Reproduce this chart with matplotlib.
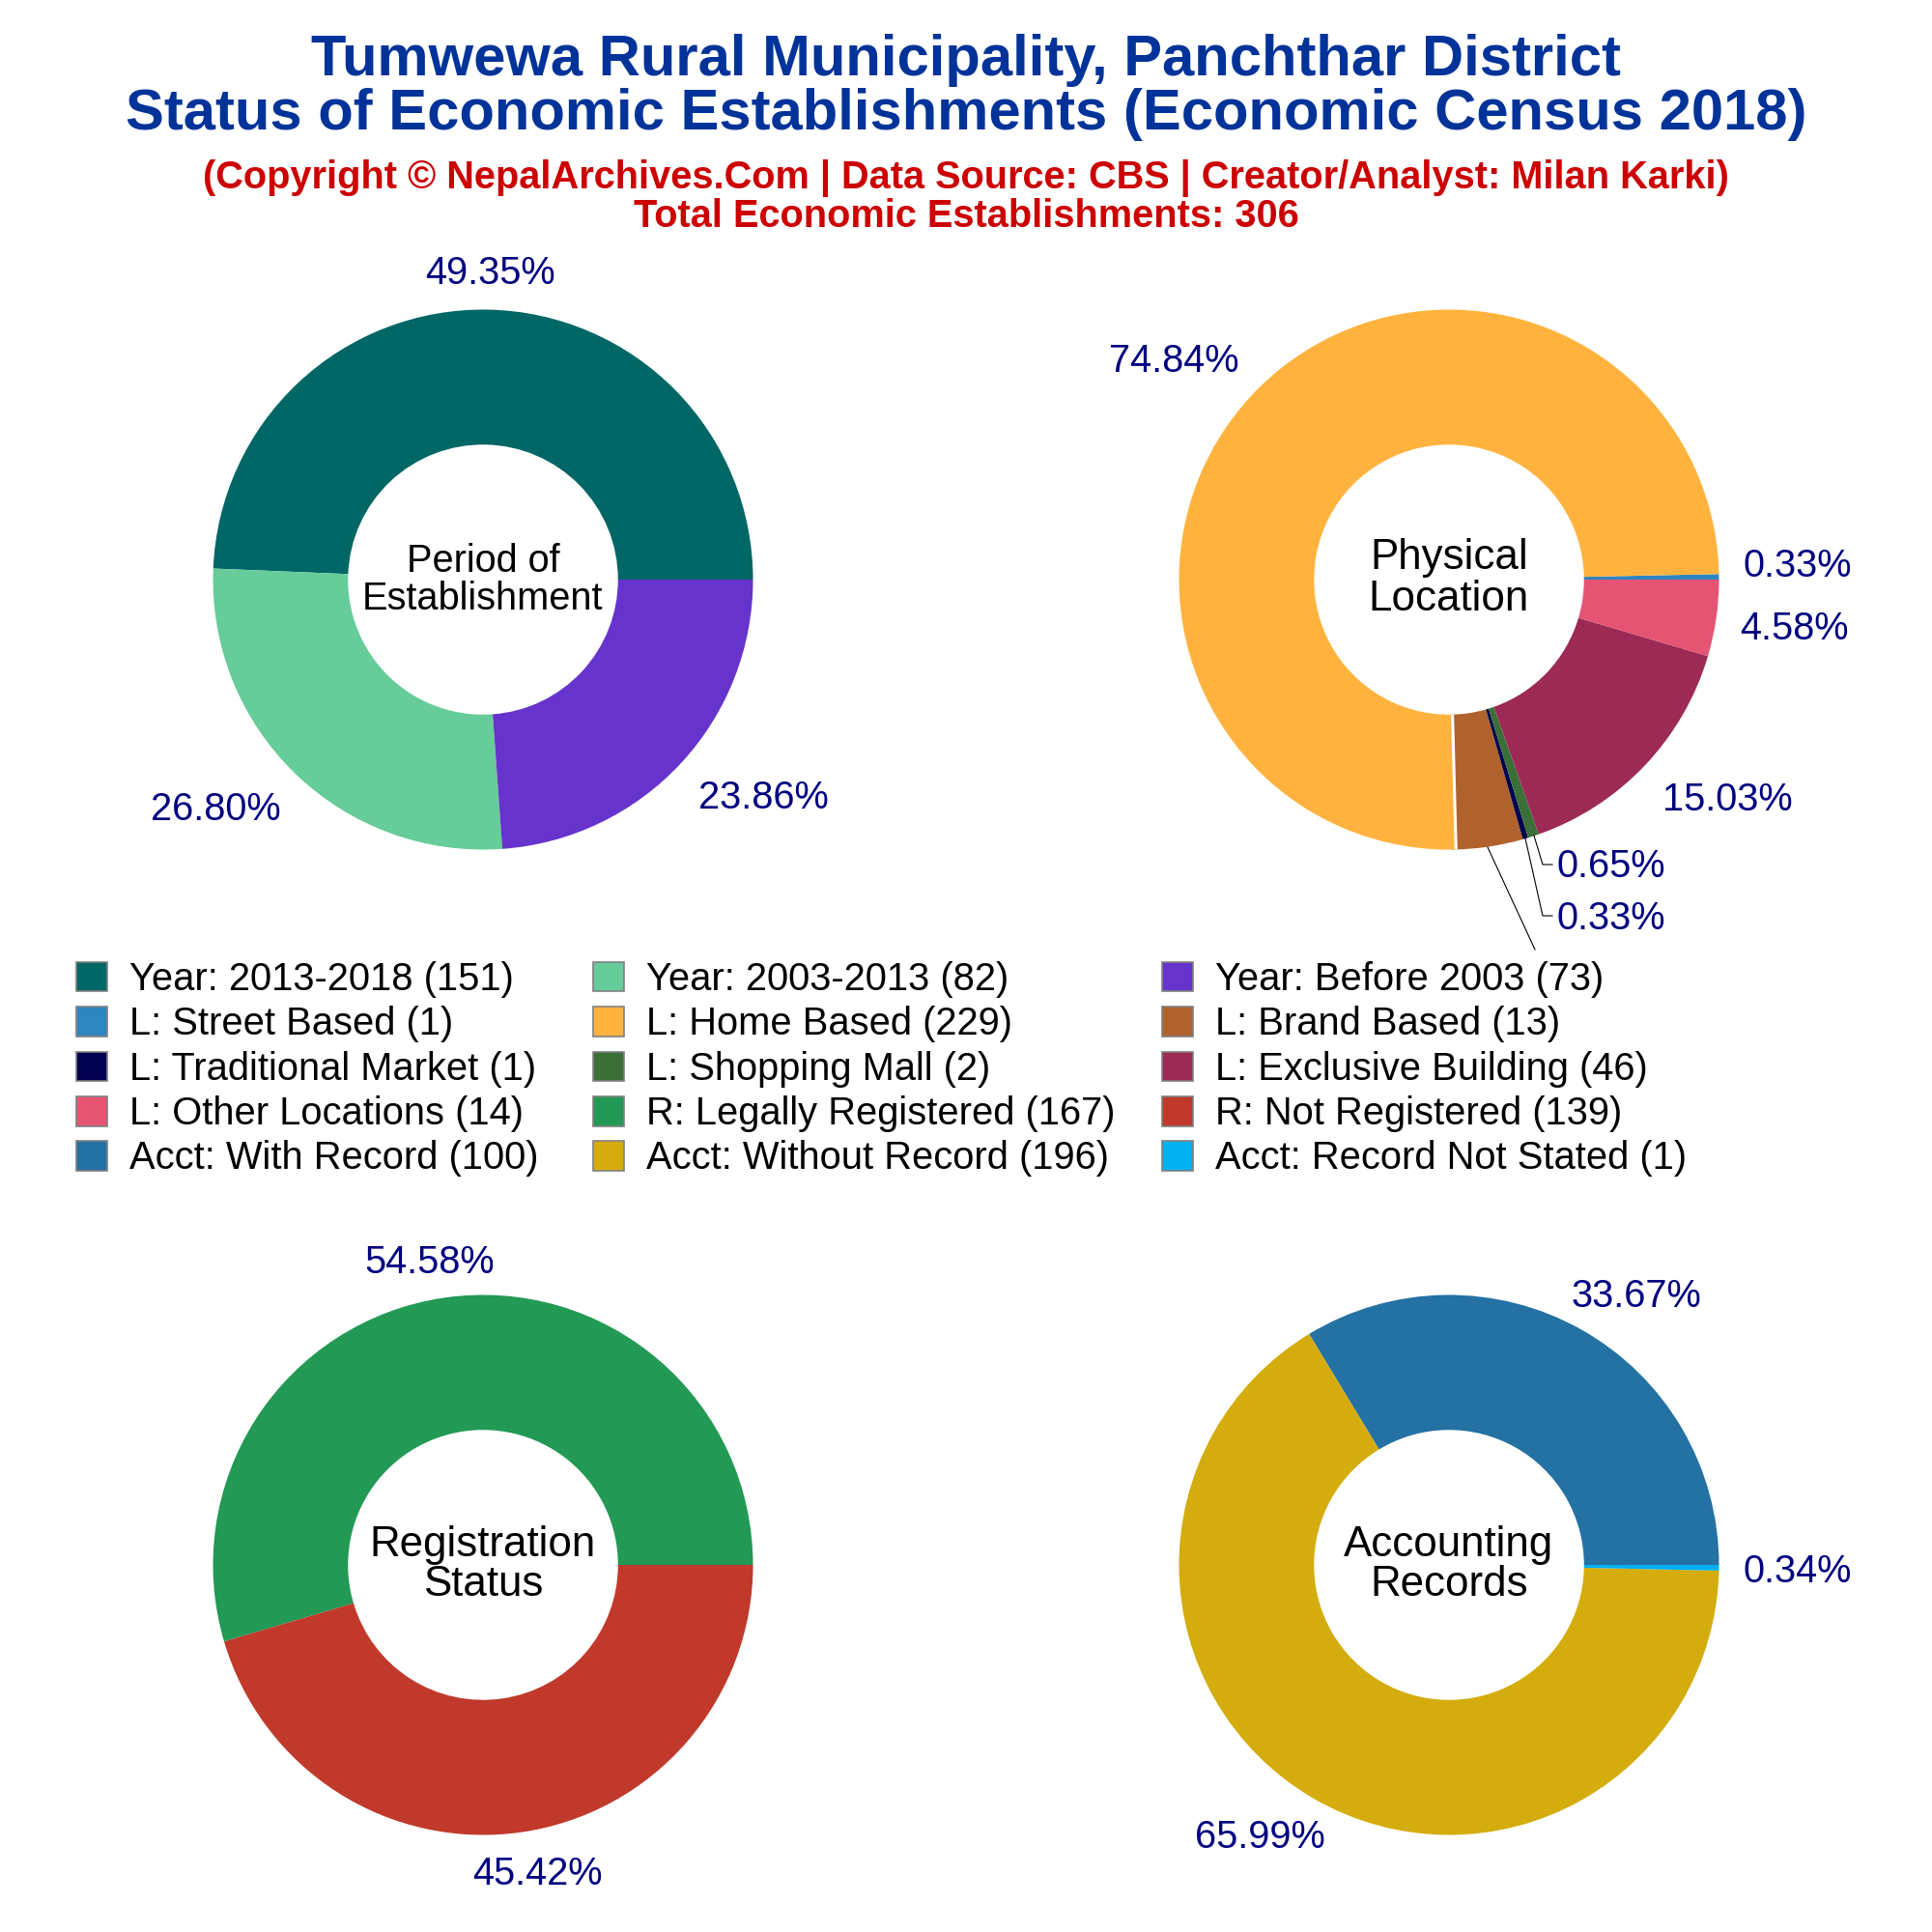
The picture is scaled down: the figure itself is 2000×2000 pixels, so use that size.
import numpy as np
import matplotlib
matplotlib.use("Agg")
import matplotlib.pyplot as plt
from matplotlib.lines import Line2D
from matplotlib.patches import Patch, Wedge

plt.rcParams['font.family'] = ['Liberation Sans', 'DejaVu Sans']

# data
period_labels = ["Year: 2013-2018", "Year: 2003-2013", "Year: Before 2003"]
period_values = [151, 82, 73]
period_colors = ["#006666", "#66CC99", "#6633CC"]

location_labels = ["L: Street Based", "L: Home Based", "L: Brand Based", "L: Traditional Market",
                   "L: Shopping Mall", "L: Exclusive Building", "L: Other Locations"]
location_values = [1, 229, 13, 1, 2, 46, 14]
location_colors = ["#2E86C1", "#FFB33E", "#B0622D", "#000050", "#3A7038", "#9C2A55", "#E55473"]

reg_labels = ["R: Legally Registered", "R: Not Registered"]
reg_values = [167, 139]
reg_colors = ["#229954", "#C0392B"]

acct_labels = ["Acct: With Record", "Acct: Without Record", "Acct: Record Not Stated"]
acct_values = [100, 196, 1]
acct_colors = ["#2471A3", "#D4AC0D", "#00B0F0"]

W = 2000.0
DARKBLUE = "#000080"


def fx(x):
    return x / W


def fy(y):
    return 1 - y / W


def donut(cx, cy, values, colors, title, title_y, label_pos):
    r = 279.5
    ax = fig.add_axes([fx(cx - r), fy(cy + r), 2 * r / W, 2 * r / W])
    wedges, _ = ax.pie(values, colors=colors, radius=1, startangle=0, counterclock=True,
                       wedgeprops=dict(width=0.5, linewidth=0))
    ax.set_xlim(-1, 1)
    ax.set_ylim(-1, 1)
    for (x, y), v in zip(label_pos, values):
        if (x, y) == (None, None):
            continue
        fig.text(fx(x), fy(y), "%.2f%%" % (100.0 * v / sum(values)), color=DARKBLUE,
                 fontsize=14.3, ha='center', va='center')
    for line, y in zip(title, title_y):
        fig.text(fx(cx), fy(y), line[0], fontsize=line[1], ha='center', va='center', color='black')
    return ax


fig = plt.figure(figsize=(10, 10), dpi=200, facecolor='white')

fig.text(0.5, fy(63), "Tumwewa Rural Municipality, Panchthar District", color="#003399",
         fontsize=21.5, fontweight='bold', ha='center', va='center')
fig.text(0.5, fy(119), "Status of Economic Establishments (Economic Census 2018)", color="#003399",
         fontsize=21.5, fontweight='bold', ha='center', va='center')
fig.text(0.5, fy(185), "(Copyright \u00a9 NepalArchives.Com | Data Source: CBS | Creator/Analyst: Milan Karki)",
         color="#CC0000", fontsize=14.33, fontweight='bold', ha='center', va='center')
fig.text(0.5, fy(224), "Total Economic Establishments: 306", color="#CC0000",
         fontsize=14.33, fontweight='bold', ha='center', va='center')

donut(500, 600, period_values, period_colors,
      [("Period of", 14.3), ("Establishment", 14.3)], [581, 620],
      [(507, 283), (223, 838), (790, 826)])

ax2 = donut(1500, 600, location_values, location_colors,
            [("Physical", 15.8), ("Location", 15.8)], [578, 621],
            [(1861, 586), (1215, 374), (None, None), (1668, 951), (1668, 897), (1788, 828), (1857, 651)])
# home slice runs on a little and leaves a white gap before the brand slice
home_end = 360.0 * sum(location_values[:2]) / sum(location_values)
gap = home_end + 0.9
ax2.add_patch(Wedge((0, 0), 1, home_end - 0.1, gap, width=0.5, color=location_colors[1], lw=0))
gap_rad = np.deg2rad(gap)
ax2.plot([0.5 * np.cos(gap_rad), np.cos(gap_rad)], [0.5 * np.sin(gap_rad), np.sin(gap_rad)],
         color='white', lw=1.1, solid_capstyle='butt')

donut(500, 1620, reg_values, reg_colors,
      [("Registration", 15.8), ("Status", 15.8)], [1599, 1641],
      [(445, 1307), (556, 1940)])

donut(1500, 1620, acct_values, acct_colors,
      [("Accounting", 15.8), ("Records", 15.8)], [1599, 1641],
      [(1694, 1342), (1304, 1902), (1861, 1627)])

# leader lines
for xs, ys in [((1588, 1597, 1607), (865, 895, 895)),
               ((1579, 1597, 1607), (868, 948, 948)),
               ((1540, 1589), (877, 983))]:
    fig.add_artist(Line2D([fx(x) for x in xs], [fy(y) for y in ys], color='black', lw=0.4))

# legend, three columns
all_labels = period_labels + location_labels + reg_labels + acct_labels
all_values = period_values + location_values + reg_values + acct_values
all_colors = period_colors + location_colors + reg_colors + acct_colors
handles = [Patch(facecolor=c, edgecolor='#808080', linewidth=0.6) for c in all_colors]
texts = ["%s (%d)" % (l, v) for l, v in zip(all_labels, all_values)]

for col, x in enumerate([79, 614, 1203]):
    leg = fig.legend(handles[col::3], texts[col::3], loc='upper left', bbox_to_anchor=(fx(x), fy(995)),
                     bbox_transform=fig.transFigure, frameon=False, fontsize=14.35, ncol=1,
                     borderpad=0, borderaxespad=0, handlelength=0.8, handleheight=0.8,
                     handletextpad=0.57, labelspacing=0.21)

fig.savefig("out.png", dpi=200)
